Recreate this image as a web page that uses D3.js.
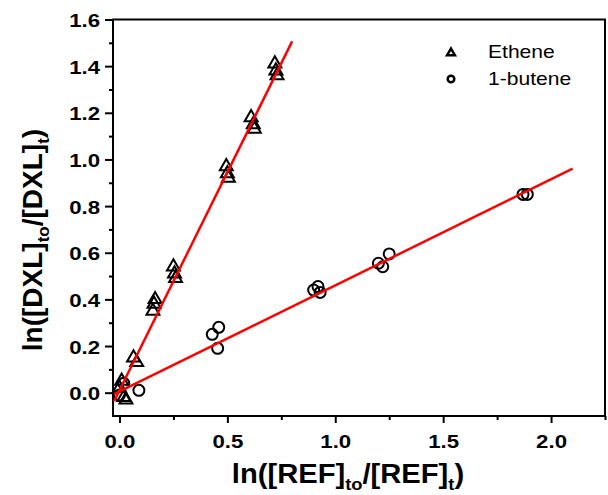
<!DOCTYPE html>
<html>
<head>
<meta charset="utf-8">
<script src="https://cdn.jsdelivr.net/npm/d3@7"></script>
<style>
body { margin:0; background:#fff; }
text { font-family: "Liberation Sans", Arial, sans-serif; }
</style>
</head>
<body>
<div id="chart"></div>
<script>
// ethene points (triangles)
var etheneX = [0.00, 0.01, 0.02, 0.03, 0.065, 0.08, 0.155, 0.16, 0.165, 0.25, 0.255, 0.26, 0.495, 0.50, 0.505, 0.61, 0.62, 0.625, 0.72, 0.725, 0.73];
var etheneY = [0.02, 0.05, -0.02, -0.03, 0.15, 0.13, 0.35, 0.38, 0.40, 0.54, 0.51, 0.49, 0.97, 0.94, 0.92, 1.18, 1.15, 1.13, 1.41, 1.38, 1.36];
// 1-butene points (circles)
var buteneX = [0.00, 0.02, 0.09, 0.43, 0.455, 0.46, 0.90, 0.92, 0.93, 1.20, 1.22, 1.25, 1.87, 1.89];
var buteneY = [-0.01, 0.04, 0.01, 0.25, 0.19, 0.28, 0.44, 0.455, 0.43, 0.555, 0.54, 0.595, 0.85, 0.85];
// linear fits: [x0, x1] and [slope, intercept]
var etheneFitX = [-0.025, 0.8];
var etheneFit = [1.87, 0.01];
var buteneFitX = [-0.025, 2.1];
var buteneFit = [0.455, 0.005];
// ticks
var xMajor = [0, 0.5, 1.0, 1.5, 2.0];
var xMinor = [0.25, 0.75, 1.25, 1.75, 2.25];
var yMajor = [0, 0.2, 0.4, 0.6, 0.8, 1.0, 1.2, 1.4, 1.6];
var yMinor = [0.1, 0.3, 0.5, 0.7, 0.9, 1.1, 1.3, 1.5];
var seriesNames = ["Ethene", "1-butene"];

var W = 608, H = 495;
var pLeft = 113, pRight = 605, pTop = 19.5, pBottom = 416;
var sx = 1.17; // text in the original is stretched horizontally

var svg = d3.select("#chart").append("svg").attr("width", W).attr("height", H);

var x = d3.scaleLinear().domain([-0.03, 2.25]).range([pLeft, pRight]);
var y = d3.scaleLinear().domain([-0.1, 1.6]).range([pBottom, pTop]);

// axes
var gx = svg.append("g").attr("transform", "translate(0," + pBottom + ")");
gx.call(d3.axisBottom(x).tickValues(xMajor).tickSize(7).tickSizeOuter(0).tickFormat(d3.format(".1f")));
var gxm = svg.append("g").attr("transform", "translate(0," + pBottom + ")");
gxm.call(d3.axisBottom(x).tickValues(xMinor).tickSize(4).tickSizeOuter(0).tickFormat(""));

var gy = svg.append("g").attr("transform", "translate(" + pLeft + ",0)");
gy.call(d3.axisLeft(y).tickValues(yMajor).tickSize(8).tickSizeOuter(0).tickFormat(d3.format(".1f")));
var gym = svg.append("g").attr("transform", "translate(" + pLeft + ",0)");
gym.call(d3.axisLeft(y).tickValues(yMinor).tickSize(4).tickSizeOuter(0).tickFormat(""));

svg.selectAll(".domain").remove();
svg.selectAll(".tick line").attr("stroke", "#000").attr("stroke-width", 2);

// tick labels, bold and widened
gx.selectAll(".tick text").each(function() {
	var t = d3.select(this);
	t.attr("y", null).attr("dy", null)
		.attr("transform", "translate(0,32) scale(" + sx + ",1)")
		.attr("font-size", 19).attr("font-weight", "bold").attr("fill", "#000")
		.attr("font-family", "Liberation Sans, Arial, sans-serif");
});
gy.selectAll(".tick text").each(function() {
	var t = d3.select(this);
	t.attr("x", null).attr("dy", null)
		.attr("transform", "translate(-13,7) scale(" + sx + ",1)")
		.attr("font-size", 19).attr("font-weight", "bold").attr("fill", "#000")
		.attr("font-family", "Liberation Sans, Arial, sans-serif");
});

// frame
svg.append("rect")
	.attr("x", pLeft).attr("y", pTop)
	.attr("width", pRight - pLeft).attr("height", pBottom - pTop)
	.attr("fill", "none").attr("stroke", "#000").attr("stroke-width", 2);

// markers
var tri = d3.symbol().type(d3.symbolTriangle).size(72);
svg.append("g").selectAll("path")
	.data(d3.range(etheneX.length))
	.enter().append("path")
	.attr("d", tri)
	.attr("transform", function(i) { return "translate(" + x(etheneX[i]) + "," + y(etheneY[i]) + ")"; })
	.attr("fill", "none").attr("stroke", "#000").attr("stroke-width", 2);

svg.append("g").selectAll("circle")
	.data(d3.range(buteneX.length))
	.enter().append("circle")
	.attr("cx", function(i) { return x(buteneX[i]); })
	.attr("cy", function(i) { return y(buteneY[i]); })
	.attr("r", 5.5)
	.attr("fill", "none").attr("stroke", "#000").attr("stroke-width", 2);

// fit lines on top
function fitLine(xs, f) {
	svg.append("line")
		.attr("x1", x(xs[0])).attr("y1", y(f[0] * xs[0] + f[1]))
		.attr("x2", x(xs[1])).attr("y2", y(f[0] * xs[1] + f[1]))
		.attr("stroke", "#ff0000").attr("stroke-width", 2.5);
}
fitLine(etheneFitX, etheneFit);
fitLine(buteneFitX, buteneFit);

// legend
var lg = svg.append("g");
lg.append("path").attr("d", d3.symbol().type(d3.symbolTriangle).size(26))
	.attr("transform", "translate(451,53)")
	.attr("fill", "none").attr("stroke", "#000").attr("stroke-width", 2.5);
lg.append("circle").attr("cx", 451).attr("cy", 79).attr("r", 3.3)
	.attr("fill", "none").attr("stroke", "#000").attr("stroke-width", 2.5);
lg.selectAll("text").data(seriesNames).enter().append("text")
	.attr("transform", function(d, i) { return "translate(488," + (58 + i * 27) + ") scale(" + sx + ",1)"; })
	.attr("font-size", 18).attr("fill", "#000")
	.text(function(d) { return d; });

// axis titles with subscripts
function title(g, a) {
	var t = g.append("text").attr("font-weight", "bold").attr("font-size", 27).attr("fill", "#000");
	t.append("tspan").text("ln([" + a + "]");
	t.append("tspan").attr("font-size", 17).attr("dy", 7).text("to");
	t.append("tspan").attr("dy", -7).text("/[" + a + "]");
	t.append("tspan").attr("font-size", 17).attr("dy", 7).text("t");
	t.append("tspan").attr("dy", -7).text(")");
	return t;
}
var xt = title(svg.append("g").attr("transform", "translate(348,483) scale(1.08,1)"), "REF");
xt.attr("text-anchor", "middle");
var yt = title(svg.append("g").attr("transform", "translate(42,240) rotate(-90)"), "DXL");
yt.attr("text-anchor", "middle").attr("font-size", 28);
</script>
</body>
</html>
